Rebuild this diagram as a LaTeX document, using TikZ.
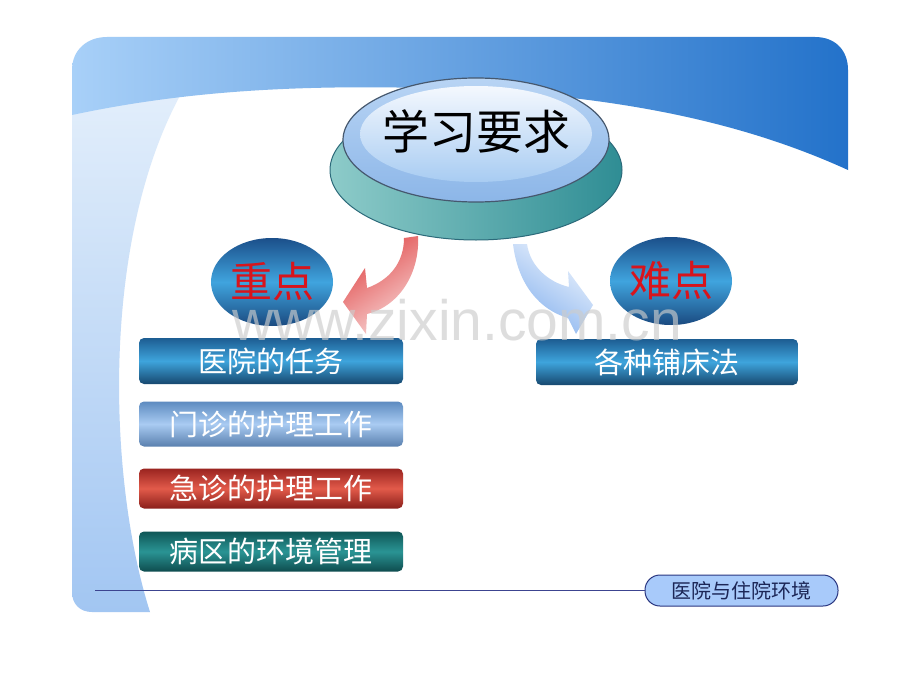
\documentclass[tikz,border=0pt]{standalone}
\usepackage{fontspec}
\newfontfamily\cjk{Noto Sans CJK SC}
\newfontfamily\wmfont{Liberation Sans}
\usetikzlibrary{shapes.geometric}
\definecolor{stripTop}{HTML}{E2EEFB}
\definecolor{stripBot}{HTML}{A2C6F2}
\definecolor{bandL}{HTML}{A8D0F8}
\definecolor{bandR}{HTML}{2372CA}
\definecolor{tealA}{HTML}{8DCBC9}
\definecolor{tealB}{HTML}{2F8D94}
\definecolor{tealLine}{HTML}{2C6A7A}
\definecolor{rimTop}{HTML}{B8D4F4}
\definecolor{rimBot}{HTML}{8CB6E8}
\definecolor{rimLine}{HTML}{46586E}
\definecolor{capTop}{HTML}{F4F8FE}
\definecolor{capBot}{HTML}{A8CCF2}
\definecolor{ovT}{HTML}{1B4F8A}
\definecolor{ovM}{HTML}{40A4DE}
\definecolor{ovB}{HTML}{1A4A80}
\definecolor{ptRed}{HTML}{D8141C}
\definecolor{bAT}{HTML}{1D5D92}
\definecolor{bAM}{HTML}{3EA4DC}
\definecolor{bAB}{HTML}{17486F}
\definecolor{bBT}{HTML}{5D8BC0}
\definecolor{bBM}{HTML}{A9CBF2}
\definecolor{bBB}{HTML}{5A80AE}
\definecolor{bCT}{HTML}{9A2420}
\definecolor{bCM}{HTML}{E25A4A}
\definecolor{bCB}{HTML}{8A1E1A}
\definecolor{bDT}{HTML}{0F5656}
\definecolor{bDM}{HTML}{2A9494}
\definecolor{bDB}{HTML}{0E4C4E}
\definecolor{arrRed}{HTML}{E04848}
\definecolor{arrPink}{HTML}{F8D8D8}
\definecolor{arrBlue}{HTML}{86B2EE}
\definecolor{arrPale}{HTML}{EEF4FD}
\definecolor{lblFill}{HTML}{A8CAFA}
\definecolor{lblLine}{HTML}{2A3680}
\definecolor{lblText}{HTML}{1C2656}
\definecolor{lineCol}{HTML}{3C4490}
\definecolor{wmGray}{HTML}{CCCCCC}
\begin{document}
\begin{tikzpicture}[x=1pt,y=-1pt,
  oval/.style={ellipse, minimum width=122pt, minimum height=88pt, inner sep=0pt,
    top color=ovT, bottom color=ovB, middle color=ovM, text=ptRed,
    font=\cjk\fontsize{42}{42}\selectfont},
  topicbox/.style={rounded corners=5pt, minimum width=264pt, inner sep=0pt, text=white,
    font=\cjk\fontsize{29}{29}\selectfont}]
\fill[white] (0,0) rectangle (920,690);
\useasboundingbox (0,0) rectangle (920,690);
% left strip
\shade[top color=stripTop, bottom color=stripBot]
  (72,95) -- (72,592) .. controls (72,604) and (80,612) .. (92,612) -- (150,612)
  .. controls (108,480) and (100,240) .. (182,92) -- cycle;
% top band
\shade[left color=bandL, right color=bandR]
  (72,115) -- (72,70) .. controls (72,50) and (87,37) .. (107,37) -- (815,37)
  .. controls (835,37) and (848,50) .. (848,70) -- (848,170)
  .. controls (760,130) and (650,100) .. (480,90)
  .. controls (300,82) and (180,92) .. (72,115) -- cycle;
% arrows
\shade[left color=arrRed, right color=arrPink, shading angle=35]
  (418,236) .. controls (420,272) and (400,306) .. (367,314) -- (366,334) -- (343,302)
  -- (365,268) -- (367,288) .. controls (390,280) and (404,262) .. (404,238) -- cycle;
\shade[left color=arrPale, right color=arrBlue, shading angle=-35]
  (513,244) .. controls (518,285) and (540,310) .. (568,318) -- (576,334) -- (593,305)
  -- (568,271) -- (569,287) .. controls (548,282) and (530,266) .. (527,244) -- cycle;
% button
\node[ellipse, minimum width=292pt, minimum height=140pt, left color=tealA, right color=tealB,
  draw=tealLine, line width=1pt] (base) at (476,170) {};
\node[ellipse, minimum width=266pt, minimum height=124pt, top color=rimTop, bottom color=rimBot,
  draw=rimLine, line width=1.2pt] (rim) at (476,140) {};
\node[ellipse, minimum width=232pt, minimum height=96pt, top color=capTop, bottom color=capBot]
  (cap) at (476,134) {};
\node[font=\cjk\fontsize{47}{47}\selectfont, text=black] (title) at (476,131) {学习要求};
% key / hard points
\node[oval] (zd) at (272,282) {重点};
\node[oval] (nd) at (671,281) {难点};
% boxes
\node[topicbox, minimum height=46pt, top color=bAT, bottom color=bAB, middle color=bAM]
  (b1) at (271,361) {医院的任务};
\node[topicbox, minimum height=45pt, top color=bBT, bottom color=bBB, middle color=bBM]
  (b2) at (271,424) {门诊的护理工作};
\node[topicbox, minimum height=40pt, top color=bCT, bottom color=bCB, middle color=bCM]
  (b3) at (271,488.5) {急诊的护理工作};
\node[topicbox, minimum height=40pt, top color=bDT, bottom color=bDB, middle color=bDM]
  (b4) at (271,551.5) {病区的环境管理};
\node[topicbox, minimum width=262pt, minimum height=46pt, top color=bAT, bottom color=bAB, middle color=bAM]
  (r1) at (667,362) {各种铺床法};
% footer
\node[draw=lblLine, line width=1pt, fill=lblFill, rounded corners=15pt, minimum width=193pt,
  minimum height=31pt, inner sep=0pt, text=lblText, font=\cjk\fontsize{20}{20}\selectfont]
  (lbl) at (741.5,590.5) {医院与住院环境};
\coordinate (lineStart) at (95,590.5);
\draw[line width=1.2pt, lineCol] (lineStart) -- (lbl.west);
% watermark
\node[anchor=base west, inner sep=0pt, text=wmGray, opacity=0.65,
  font=\wmfont\fontsize{57}{57}\selectfont] (wm) at (232,340) {www.zixin.com.cn};
\end{tikzpicture}
\end{document}
